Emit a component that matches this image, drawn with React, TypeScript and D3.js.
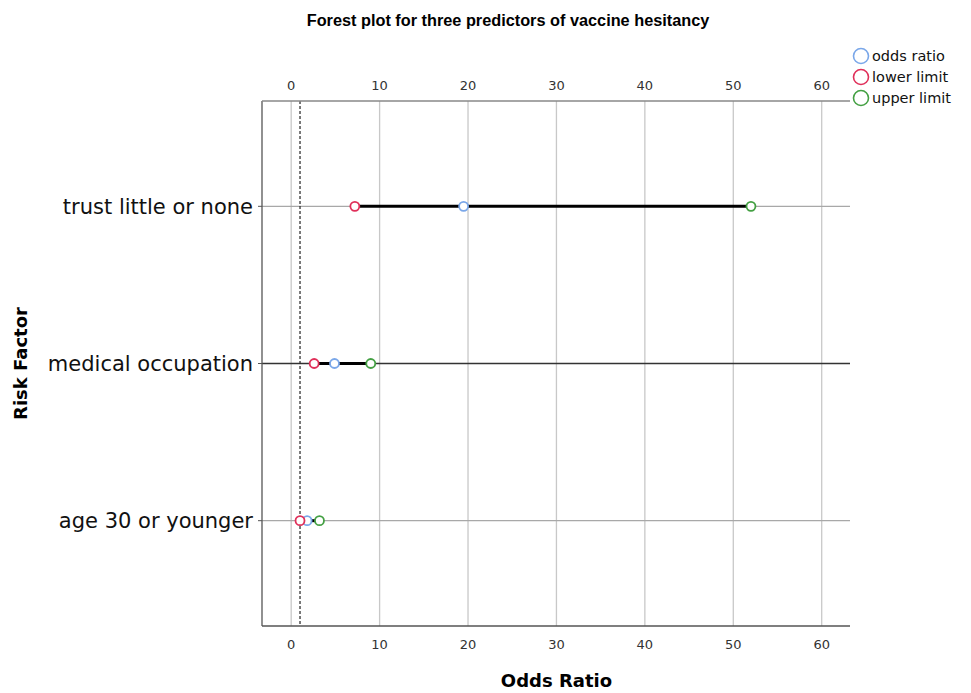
import { useEffect, useRef } from "react";
import * as d3 from "d3";

const factors = ["trust little or none", "medical occupation", "age 30 or younger"];
const oddsRatio = [19.5, 4.9, 1.8];
const lowerLimit = [7.2, 2.6, 1.0];
const upperLimit = [52.0, 9.0, 3.2];
const xTicks = [0, 10, 20, 30, 40, 50, 60];
const legendLabels = ["odds ratio", "lower limit", "upper limit"];

const colors = {
  odds: "#7aa7e9",
  lower: "#e0305a",
  upper: "#44a043",
};

export default function App() {
  const ref = useRef<SVGSVGElement | null>(null);

  const W = 971;
  const H = 693;
  const margin = { top: 101, right: 121, bottom: 67, left: 262 };
  const width = W - margin.left - margin.right;
  const height = H - margin.top - margin.bottom;

  useEffect(() => {
    const root = d3.select(ref.current);
    root.selectAll("*").remove();
    const font = "'DejaVu Sans', sans-serif";

    const x = d3.scaleLinear().domain([-3.3, 63.2]).range([0, width]);
    const y = d3.scalePoint().domain(factors).range([0, height]).padding(0.67);

    const rows = factors.map((f, i) => ({
      f,
      or: oddsRatio[i],
      lo: lowerLimit[i],
      hi: upperLimit[i],
    }));

    // title
    root
      .append("text")
      .attr("x", 508)
      .attr("y", 26)
      .attr("text-anchor", "middle")
      .style("font-family", "'Liberation Sans', Arial, sans-serif")
      .style("font-weight", "bold")
      .style("font-size", "16.3px")
      .text("Forest plot for three predictors of vaccine hesitancy");

    const g = root.append("g").attr("transform", `translate(${margin.left},${margin.top})`);

    // vertical grid
    g.selectAll(".vgrid")
      .data(xTicks)
      .enter()
      .append("line")
      .attr("x1", (d) => x(d))
      .attr("x2", (d) => x(d))
      .attr("y1", 0)
      .attr("y2", height)
      .attr("stroke", "#c8c8c8")
      .attr("stroke-width", 1.3);

    // horizontal lines at each factor
    g.selectAll(".hgrid")
      .data(rows)
      .enter()
      .append("line")
      .attr("x1", 0)
      .attr("x2", width)
      .attr("y1", (d) => y(d.f)!)
      .attr("y2", (d) => y(d.f)!)
      .attr("stroke", (d, i) => (i === 1 ? "#333" : "#a8a8a8"))
      .attr("stroke-width", (d, i) => (i === 1 ? 1.6 : 1.3));

    // reference line at OR = 1
    g.append("line")
      .attr("x1", x(1))
      .attr("x2", x(1))
      .attr("y1", 0)
      .attr("y2", height)
      .attr("stroke", "#222")
      .attr("stroke-width", 1.2)
      .attr("stroke-dasharray", "3,2");

    // frame: left, top, bottom
    g.append("line").attr("x1", 0).attr("x2", 0).attr("y1", 0).attr("y2", height)
      .attr("stroke", "#555").attr("stroke-width", 1.3);
    g.append("line").attr("x1", 0).attr("x2", width).attr("y1", 0).attr("y2", 0)
      .attr("stroke", "#888").attr("stroke-width", 1.3);
    g.append("line").attr("x1", 0).attr("x2", width).attr("y1", height).attr("y2", height)
      .attr("stroke", "#555").attr("stroke-width", 1.3);

    // category tick marks + labels
    g.selectAll(".ytick")
      .data(rows)
      .enter()
      .append("line")
      .attr("x1", -4)
      .attr("x2", 0)
      .attr("y1", (d) => y(d.f)!)
      .attr("y2", (d) => y(d.f)!)
      .attr("stroke", "#555");
    g.selectAll(".ylabel")
      .data(rows)
      .enter()
      .append("text")
      .attr("x", -9)
      .attr("y", (d) => y(d.f)!)
      .attr("dy", "0.35em")
      .attr("text-anchor", "end")
      .style("font-family", font)
      .style("font-size", "21px")
      .attr("fill", "#111")
      .text((d) => d.f);

    // x tick labels top and bottom
    [-16, height + 18].forEach((ty) => {
      g.selectAll(null)
        .data(xTicks)
        .enter()
        .append("text")
        .attr("x", (d) => x(d))
        .attr("y", ty)
        .attr("dy", "0.35em")
        .attr("text-anchor", "middle")
        .style("font-family", font)
        .style("font-size", "13px")
        .attr("fill", "#333")
        .text((d) => d);
    });

    // CI lines
    g.selectAll(".ci")
      .data(rows)
      .enter()
      .append("line")
      .attr("x1", (d) => x(d.lo))
      .attr("x2", (d) => x(d.hi))
      .attr("y1", (d) => y(d.f)!)
      .attr("y2", (d) => y(d.f)!)
      .attr("stroke", "#000")
      .attr("stroke-width", 3);

    // points
    const pts: [keyof typeof colors, "or" | "lo" | "hi"][] = [
      ["odds", "or"],
      ["lower", "lo"],
      ["upper", "hi"],
    ];
    pts.forEach(([c, k]) => {
      g.selectAll(null)
        .data(rows)
        .enter()
        .append("circle")
        .attr("cx", (d) => x(d[k]))
        .attr("cy", (d) => y(d.f)!)
        .attr("r", 4.5)
        .attr("fill", "white")
        .attr("stroke", colors[c])
        .attr("stroke-width", 1.8);
    });

    // axis titles
    root
      .append("text")
      .attr("x", margin.left + x(30))
      .attr("y", 687)
      .attr("text-anchor", "middle")
      .style("font-family", font)
      .style("font-weight", "bold")
      .style("font-size", "18px")
      .text("Odds Ratio");

    root
      .append("text")
      .attr("transform", `translate(27,${margin.top + height / 2}) rotate(-90)`)
      .attr("text-anchor", "middle")
      .style("font-family", font)
      .style("font-weight", "bold")
      .style("font-size", "18px")
      .text("Risk Factor");

    // legend
    const legendColors = [colors.odds, colors.lower, colors.upper];
    const lg = root.append("g").attr("transform", "translate(861,56)");
    legendLabels.forEach((l, i) => {
      lg.append("circle")
        .attr("cx", 0)
        .attr("cy", i * 21)
        .attr("r", 7.5)
        .attr("fill", "none")
        .attr("stroke", legendColors[i])
        .attr("stroke-width", 1.6);
      lg.append("text")
        .attr("x", 11)
        .attr("y", i * 21)
        .attr("dy", "0.35em")
        .style("font-family", font)
        .style("font-size", "14.5px")
        .attr("fill", "#111")
        .text(l);
    });
  }, []);

  return (
    <svg
      ref={ref}
      width={W}
      height={H}
      style={{ position: "absolute", left: 0, top: 0, background: "white" }}
    ></svg>
  );
}
